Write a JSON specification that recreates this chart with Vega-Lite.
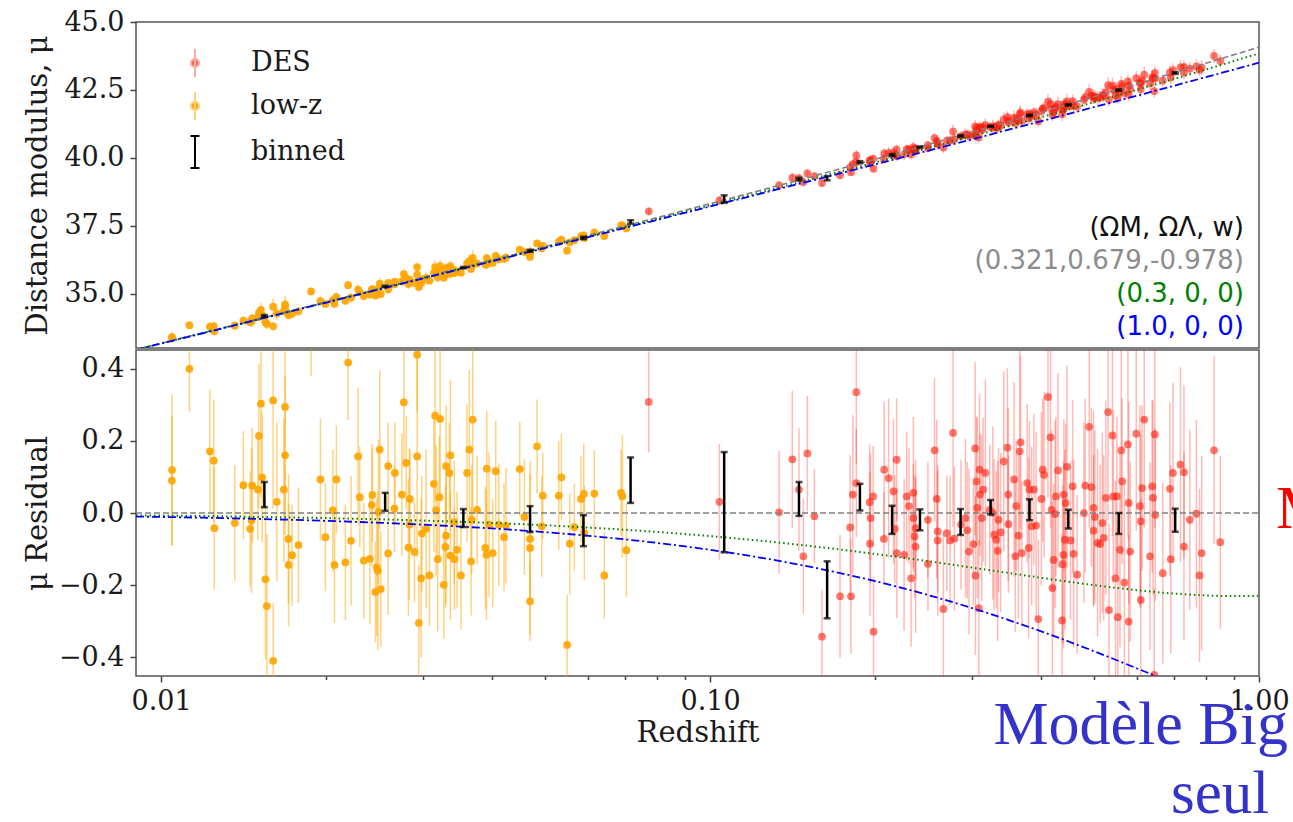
{
  "$schema": "https://vega.github.io/schema/vega-lite/v6.json",
  "background": "white",
  "padding": {"left": 22, "top": 7, "right": 0, "bottom": 0},
  "spacing": 0,
  "config": {
    "view": {"stroke": "#555555", "strokeWidth": 1.5},
    "font": "DejaVu Serif",
    "axis": {"domain": false, "grid": false, "labelFont": "DejaVu Serif", "labelFontSize": 27, "labelColor": "#1a1a1a", "tickColor": "#444444", "tickWidth": 1.5, "tickSize": 6, "labelPadding": 6, "titleFont": "DejaVu Serif", "titleFontSize": 29, "titleFontWeight": "normal", "titleColor": "#1a1a1a"}
  },
  "datasets": {
    "keys": [{"s": "DES"}, {"s": "low-z"}, {"s": "binned"}],
    "lowz": [
      {"z":0.01047,"r":0.119,"e":0.21,"m":33.40},{"z":0.01046,"r":0.090,"e":0.18,"m":33.36},{"z":0.01126,"r":0.400,"e":0.12,"m":33.84},
      {"z":0.01227,"r":0.171,"e":0.17,"m":33.79},{"z":0.01247,"r":0.145,"e":0.17,"m":33.80},{"z":0.01250,"r":-0.042,"e":0.17,"m":33.62},
      {"z":0.01362,"r":-0.028,"e":0.16,"m":33.82},{"z":0.01412,"r":0.077,"e":0.15,"m":34.01},{"z":0.01465,"r":0.076,"e":0.16,"m":34.09},
      {"z":0.01453,"r":-0.044,"e":0.16,"m":33.95},{"z":0.01461,"r":-0.021,"e":0.20,"m":33.98},{"z":0.01501,"r":0.065,"e":0.14,"m":34.13},
      {"z":0.01507,"r":0.214,"e":0.20,"m":34.29},{"z":0.01520,"r":0.303,"e":0.26,"m":34.40},{"z":0.01528,"r":0.099,"e":0.18,"m":34.20},
      {"z":0.01549,"r":-0.184,"e":0.22,"m":33.95},{"z":0.01558,"r":-0.258,"e":0.20,"m":33.89},{"z":0.01600,"r":-0.410,"e":0.16,"m":33.80},
      {"z":0.01600,"r":0.312,"e":0.30,"m":34.52},{"z":0.01625,"r":0.031,"e":0.22,"m":34.27},{"z":0.01673,"r":0.065,"e":0.20,"m":34.37},
      {"z":0.01682,"r":0.294,"e":0.32,"m":34.61},{"z":0.01682,"r":0.160,"e":0.22,"m":34.48},{"z":0.01706,"r":-0.072,"e":0.18,"m":34.27},
      {"z":0.01707,"r":-0.144,"e":0.17,"m":34.21},{"z":0.01732,"r":-0.117,"e":0.14,"m":34.26},{"z":0.01779,"r":-0.089,"e":0.16,"m":34.35},
      {"z":0.01951,"r":0.093,"e":0.17,"m":34.73},{"z":0.01992,"r":-0.067,"e":0.15,"m":34.62},{"z":0.02055,"r":0.007,"e":0.17,"m":34.76},
      {"z":0.02069,"r":-0.144,"e":0.16,"m":34.63},{"z":0.02086,"r":0.093,"e":0.15,"m":34.88},{"z":0.02166,"r":-0.137,"e":0.16,"m":34.74},
      {"z":0.02191,"r":0.417,"e":0.16,"m":35.31},{"z":0.02218,"r":-0.077,"e":0.18,"m":34.85},{"z":0.02285,"r":0.157,"e":0.19,"m":35.15},
      {"z":0.02301,"r":0.044,"e":0.14,"m":35.05},{"z":0.02340,"r":-0.132,"e":0.16,"m":34.91},{"z":0.02400,"r":-0.127,"e":0.18,"m":34.97},
      {"z":0.02420,"r":0.022,"e":0.17,"m":35.14},{"z":0.02426,"r":0.050,"e":0.13,"m":35.17},{"z":0.02471,"r":-0.151,"e":0.19,"m":35.01},
      {"z":0.02482,"r":-0.160,"e":0.22,"m":35.01},{"z":0.02457,"r":-0.219,"e":0.14,"m":34.93},{"z":0.02513,"r":-0.211,"e":0.16,"m":34.99},
      {"z":0.02502,"r":0.176,"e":0.22,"m":35.37},{"z":0.02488,"r":0.003,"e":0.20,"m":35.18},{"z":0.02592,"r":0.130,"e":0.12,"m":35.40},
      {"z":0.02592,"r":-0.112,"e":0.17,"m":35.16},{"z":0.02666,"r":0.111,"e":0.14,"m":35.44},{"z":0.02661,"r":0.012,"e":0.12,"m":35.34},
      {"z":0.02745,"r":0.051,"e":0.17,"m":35.45},{"z":0.02768,"r":0.307,"e":0.18,"m":35.72},{"z":0.02795,"r":0.139,"e":0.13,"m":35.57},
      {"z":0.02839,"r":0.039,"e":0.14,"m":35.51},{"z":0.02834,"r":-0.032,"e":0.21,"m":35.43},{"z":0.02822,"r":-0.096,"e":0.19,"m":35.36},
      {"z":0.02894,"r":-0.108,"e":0.14,"m":35.40},{"z":0.02927,"r":0.439,"e":0.16,"m":35.98},{"z":0.02927,"r":0.157,"e":0.28,"m":35.70},
      {"z":0.02948,"r":-0.305,"e":0.16,"m":35.25},{"z":0.02976,"r":-0.181,"e":0.22,"m":35.39},{"z":0.02985,"r":-0.057,"e":0.16,"m":35.52},
      {"z":0.03039,"r":-0.044,"e":0.22,"m":35.58},{"z":0.03082,"r":-0.173,"e":0.14,"m":35.48},{"z":0.01876,"r":0.520,"e":0.14,"m":35.08},
      {"z":0.03156,"r":0.270,"e":0.24,"m":35.98},{"z":0.03223,"r":0.261,"e":0.22,"m":36.01},{"z":0.03139,"r":0.081,"e":0.19,"m":35.77},
      {"z":0.03213,"r":0.044,"e":0.17,"m":35.79},{"z":0.03169,"r":0.007,"e":0.18,"m":35.72},{"z":0.03191,"r":-0.128,"e":0.20,"m":35.60},
      {"z":0.03273,"r":-0.199,"e":0.15,"m":35.59},{"z":0.03295,"r":-0.094,"e":0.17,"m":35.71},{"z":0.03305,"r":-0.063,"e":0.19,"m":35.74},
      {"z":0.03305,"r":0.130,"e":0.17,"m":35.94},{"z":0.03351,"r":0.111,"e":0.14,"m":35.95},{"z":0.03365,"r":0.160,"e":0.21,"m":36.01},
      {"z":0.03365,"r":-0.118,"e":0.18,"m":35.73},{"z":0.03421,"r":-0.128,"e":0.14,"m":35.76},{"z":0.03421,"r":-0.025,"e":0.17,"m":35.86},
      {"z":0.03460,"r":-0.102,"e":0.16,"m":35.81},{"z":0.03518,"r":-0.173,"e":0.15,"m":35.77},{"z":0.03608,"r":0.111,"e":0.19,"m":36.11},
      {"z":0.03643,"r":0.176,"e":0.22,"m":36.20},{"z":0.03695,"r":0.259,"e":0.28,"m":36.32},{"z":0.03680,"r":-0.019,"e":0.15,"m":36.03},
      {"z":0.03669,"r":-0.134,"e":0.15,"m":35.91},{"z":0.03763,"r":0.009,"e":0.15,"m":36.11},{"z":0.03896,"r":-0.097,"e":0.17,"m":36.08},
      {"z":0.03919,"r":0.123,"e":0.16,"m":36.31},{"z":0.03915,"r":-0.116,"e":0.18,"m":36.07},{"z":0.03957,"r":-0.032,"e":0.20,"m":36.18},
      {"z":0.04019,"r":-0.111,"e":0.15,"m":36.13},{"z":0.04070,"r":0.116,"e":0.14,"m":36.39},{"z":0.04121,"r":-0.032,"e":0.17,"m":36.27},
      {"z":0.04214,"r":-0.067,"e":0.15,"m":36.28},{"z":0.04249,"r":-0.035,"e":0.16,"m":36.33},{"z":0.04501,"r":0.122,"e":0.13,"m":36.62},
      {"z":0.04589,"r":-0.011,"e":0.16,"m":36.53},{"z":0.04700,"r":-0.072,"e":0.18,"m":36.52},{"z":0.04700,"r":-0.097,"e":0.24,"m":36.50},
      {"z":0.04700,"r":-0.245,"e":0.11,"m":36.35},{"z":0.04840,"r":0.185,"e":0.13,"m":36.85},{"z":0.04936,"r":-0.037,"e":0.14,"m":36.67},
      {"z":0.04957,"r":0.048,"e":0.12,"m":36.76},{"z":0.05302,"r":0.048,"e":0.15,"m":36.91},{"z":0.05360,"r":0.099,"e":0.12,"m":36.99},
      {"z":0.05490,"r":-0.366,"e":0.14,"m":36.58},{"z":0.05552,"r":-0.085,"e":0.14,"m":36.88},{"z":0.05660,"r":-0.039,"e":0.12,"m":36.97},
      {"z":0.05821,"r":0.039,"e":0.12,"m":37.12},{"z":0.05887,"r":0.053,"e":0.14,"m":37.15},{"z":0.05902,"r":-0.056,"e":0.13,"m":37.05},
      {"z":0.06154,"r":0.054,"e":0.12,"m":37.26},{"z":0.06417,"r":-0.173,"e":0.12,"m":37.12},{"z":0.06885,"r":0.056,"e":0.12,"m":37.51},
      {"z":0.06922,"r":0.046,"e":0.17,"m":37.51},{"z":0.07039,"r":-0.103,"e":0.13,"m":37.40}
    ],
    "des": [
      {"z":0.07733,"r":0.308,"e":0.14,"m":38.03},{"z":0.1040,"r":0.031,"e":0.16,"m":38.43},{"z":0.1336,"r":0.002,"e":0.17,"m":38.99},
      {"z":0.1412,"r":0.149,"e":0.19,"m":39.27},{"z":0.1479,"r":-0.120,"e":0.16,"m":39.11},{"z":0.1504,"r":0.165,"e":0.16,"m":39.43},
      {"z":0.1549,"r":-0.009,"e":0.13,"m":39.33},{"z":0.1452,"r":0.065,"e":0.17,"m":39.25},{"z":0.1599,"r":-0.343,"e":0.13,"m":39.07},
      {"z":0.1725,"r":-0.231,"e":0.17,"m":39.36},{"z":0.1806,"r":-0.231,"e":0.16,"m":39.47},{"z":0.1800,"r":-0.040,"e":0.20,"m":39.66},
      {"z":0.1820,"r":0.051,"e":0.22,"m":39.77},{"z":0.1847,"r":0.335,"e":0.20,"m":40.09},{"z":0.1847,"r":0.083,"e":0.15,"m":39.84},
      {"z":0.1953,"r":0.030,"e":0.16,"m":39.92},{"z":0.1960,"r":-0.014,"e":0.18,"m":39.89},{"z":0.1956,"r":-0.085,"e":0.20,"m":39.81},
      {"z":0.1985,"r":-0.329,"e":0.15,"m":39.60},{"z":0.1982,"r":0.046,"e":0.14,"m":39.97},{"z":0.2076,"r":0.120,"e":0.19,"m":40.16},
      {"z":0.2073,"r":-0.072,"e":0.13,"m":39.96},{"z":0.2115,"r":0.097,"e":0.22,"m":40.18},{"z":0.2158,"r":0.060,"e":0.20,"m":40.19},
      {"z":0.2187,"r":0.148,"e":0.17,"m":40.31},{"z":0.2189,"r":-0.111,"e":0.18,"m":40.06},{"z":0.2170,"r":-0.044,"e":0.15,"m":40.10},
      {"z":0.2257,"r":-0.116,"e":0.21,"m":40.13},{"z":0.2282,"r":0.046,"e":0.18,"m":40.32},{"z":0.2303,"r":0.019,"e":0.16,"m":40.31},
      {"z":0.2324,"r":-0.181,"e":0.19,"m":40.13},{"z":0.2346,"r":0.056,"e":0.21,"m":40.39},{"z":0.2346,"r":-0.014,"e":0.15,"m":40.32},
      {"z":0.2359,"r":-0.065,"e":0.17,"m":40.29},{"z":0.2368,"r":-0.093,"e":0.24,"m":40.27},{"z":0.2370,"r":-0.042,"e":0.14,"m":40.32},
      {"z":0.2494,"r":-0.019,"e":0.16,"m":40.47},{"z":0.2494,"r":-0.141,"e":0.13,"m":40.35},{"z":0.2564,"r":0.174,"e":0.20,"m":40.73},
      {"z":0.2588,"r":0.039,"e":0.22,"m":40.62},{"z":0.2598,"r":-0.051,"e":0.17,"m":40.54},{"z":0.2598,"r":-0.076,"e":0.21,"m":40.51},
      {"z":0.2661,"r":-0.266,"e":0.21,"m":40.38},{"z":0.2700,"r":-0.056,"e":0.16,"m":40.63},{"z":0.2737,"r":-0.076,"e":0.18,"m":40.64},
      {"z":0.2771,"r":0.222,"e":0.26,"m":40.97},{"z":0.2787,"r":-0.071,"e":0.20,"m":40.69},{"z":0.2865,"r":-0.032,"e":0.18,"m":40.80},
      {"z":0.2919,"r":-0.014,"e":0.22,"m":40.86},{"z":0.2941,"r":-0.048,"e":0.19,"m":40.85},{"z":0.2963,"r":-0.107,"e":0.23,"m":40.81},
      {"z":0.3017,"r":-0.086,"e":0.17,"m":40.87},{"z":0.3040,"r":0.179,"e":0.24,"m":41.16},{"z":0.3044,"r":-0.174,"e":0.22,"m":40.81},
      {"z":0.3057,"r":0.088,"e":0.18,"m":41.08},{"z":0.3068,"r":0.014,"e":0.25,"m":41.02},{"z":0.3087,"r":-0.264,"e":0.19,"m":40.75},
      {"z":0.3097,"r":0.120,"e":0.21,"m":41.14},{"z":0.3103,"r":0.051,"e":0.17,"m":41.08},{"z":0.3126,"r":-0.014,"e":0.23,"m":41.03},
      {"z":0.3144,"r":0.065,"e":0.20,"m":41.13},{"z":0.3173,"r":0.111,"e":0.26,"m":41.20},{"z":0.3232,"r":0.009,"e":0.18,"m":41.14},
      {"z":0.3274,"r":0.000,"e":0.24,"m":41.16},{"z":0.3292,"r":-0.060,"e":0.21,"m":41.12},{"z":0.3322,"r":-0.074,"e":0.19,"m":41.13},
      {"z":0.3341,"r":-0.105,"e":0.25,"m":41.11},{"z":0.3353,"r":-0.019,"e":0.20,"m":41.21},{"z":0.3384,"r":-0.054,"e":0.22,"m":41.19},
      {"z":0.3428,"r":0.143,"e":0.25,"m":41.42},{"z":0.3481,"r":0.181,"e":0.22,"m":41.50},{"z":0.3492,"r":0.051,"e":0.24,"m":41.38},
      {"z":0.3496,"r":-0.031,"e":0.19,"m":41.30},{"z":0.3579,"r":0.093,"e":0.27,"m":41.48},{"z":0.3598,"r":-0.120,"e":0.21,"m":41.28},
      {"z":0.3612,"r":0.019,"e":0.18,"m":41.43},{"z":0.3645,"r":-0.063,"e":0.23,"m":41.37},{"z":0.3665,"r":0.171,"e":0.28,"m":41.62},
      {"z":0.3679,"r":0.196,"e":0.24,"m":41.66},{"z":0.3699,"r":-0.111,"e":0.20,"m":41.36},{"z":0.3782,"r":0.083,"e":0.22,"m":41.61},
      {"z":0.3805,"r":-0.097,"e":0.25,"m":41.45},{"z":0.3818,"r":0.065,"e":0.19,"m":41.62},{"z":0.3853,"r":-0.037,"e":0.22,"m":41.54},
      {"z":0.3890,"r":0.065,"e":0.21,"m":41.67},{"z":0.3926,"r":-0.035,"e":0.26,"m":41.59},{"z":0.3963,"r":-0.294,"e":0.22,"m":41.35},
      {"z":0.4014,"r":0.039,"e":0.24,"m":41.72},{"z":0.4036,"r":0.120,"e":0.20,"m":41.82},{"z":0.4060,"r":0.106,"e":0.23,"m":41.82},
      {"z":0.4127,"r":0.322,"e":0.28,"m":42.07},{"z":0.4172,"r":0.210,"e":0.25,"m":41.99},{"z":0.4188,"r":0.009,"e":0.22,"m":41.80},
      {"z":0.4204,"r":-0.208,"e":0.24,"m":41.59},{"z":0.4226,"r":-0.130,"e":0.21,"m":41.68},{"z":0.4251,"r":-0.003,"e":0.26,"m":41.82},
      {"z":0.4267,"r":0.046,"e":0.22,"m":41.88},{"z":0.4305,"r":0.118,"e":0.27,"m":41.98},{"z":0.4378,"r":-0.298,"e":0.24,"m":41.60},
      {"z":0.4387,"r":-0.142,"e":0.22,"m":41.77},{"z":0.4404,"r":-0.116,"e":0.26,"m":41.80},{"z":0.4411,"r":0.051,"e":0.21,"m":41.97},
      {"z":0.4428,"r":-0.074,"e":0.25,"m":41.86},{"z":0.4445,"r":0.028,"e":0.22,"m":41.97},{"z":0.4469,"r":0.128,"e":0.28,"m":42.08},
      {"z":0.4535,"r":-0.076,"e":0.22,"m":41.92},{"z":0.4577,"r":0.074,"e":0.24,"m":42.09},{"z":0.4594,"r":-0.113,"e":0.26,"m":41.91},
      {"z":0.4663,"r":-0.171,"e":0.22,"m":41.89},{"z":0.4797,"r":0.000,"e":0.25,"m":42.14},{"z":0.4825,"r":0.076,"e":0.24,"m":42.23},
      {"z":0.4905,"r":0.239,"e":0.28,"m":42.43},{"z":0.4950,"r":0.072,"e":0.22,"m":42.29},{"z":0.4996,"r":0.014,"e":0.27,"m":42.26},
      {"z":0.4996,"r":-0.049,"e":0.21,"m":42.19},{"z":0.5023,"r":-0.011,"e":0.24,"m":42.25},{"z":0.5080,"r":-0.083,"e":0.26,"m":42.20},
      {"z":0.5136,"r":-0.086,"e":0.22,"m":42.23},{"z":0.5183,"r":-0.028,"e":0.25,"m":42.31},{"z":0.5213,"r":-0.069,"e":0.23,"m":42.29},
      {"z":0.5261,"r":0.042,"e":0.27,"m":42.42},{"z":0.5310,"r":0.280,"e":0.30,"m":42.68},{"z":0.5330,"r":-0.269,"e":0.24,"m":42.14},
      {"z":0.5409,"r":0.215,"e":0.28,"m":42.67},{"z":0.5429,"r":0.046,"e":0.24,"m":42.51},{"z":0.5479,"r":-0.181,"e":0.27,"m":42.30},
      {"z":0.5509,"r":0.046,"e":0.22,"m":42.54},{"z":0.5530,"r":-0.289,"e":0.25,"m":42.22},{"z":0.5581,"r":-0.102,"e":0.27,"m":42.43},
      {"z":0.5612,"r":0.174,"e":0.29,"m":42.72},{"z":0.5633,"r":0.088,"e":0.23,"m":42.64},{"z":0.5685,"r":-0.193,"e":0.27,"m":42.39},
      {"z":0.5771,"r":0.190,"e":0.26,"m":42.81},{"z":0.5790,"r":-0.301,"e":0.24,"m":42.33},{"z":0.5790,"r":0.028,"e":0.28,"m":42.66},
      {"z":0.5825,"r":-0.107,"e":0.25,"m":42.54},{"z":0.5976,"r":0.220,"e":0.27,"m":42.93},{"z":0.6067,"r":0.019,"e":0.28,"m":42.77},
      {"z":0.6090,"r":-0.023,"e":0.24,"m":42.74},{"z":0.6090,"r":-0.241,"e":0.28,"m":42.52},{"z":0.6123,"r":0.069,"e":0.23,"m":42.84},
      {"z":0.6180,"r":0.259,"e":0.30,"m":43.06},{"z":0.6330,"r":-0.120,"e":0.26,"m":42.74},{"z":0.6388,"r":0.074,"e":0.24,"m":42.96},
      {"z":0.6412,"r":0.042,"e":0.27,"m":42.94},{"z":0.6461,"r":0.218,"e":0.26,"m":43.13},{"z":0.6472,"r":-0.005,"e":0.24,"m":42.92},
      {"z":0.6679,"r":-0.167,"e":0.25,"m":42.84},{"z":0.6881,"r":0.067,"e":0.24,"m":43.15},{"z":0.6907,"r":-0.128,"e":0.26,"m":42.96},
      {"z":0.6971,"r":0.111,"e":0.25,"m":43.23},{"z":0.7194,"r":0.134,"e":0.27,"m":43.33},{"z":0.7300,"r":0.113,"e":0.24,"m":43.35},
      {"z":0.7300,"r":-0.093,"e":0.26,"m":43.14},{"z":0.7480,"r":-0.019,"e":0.25,"m":43.28},{"z":0.7690,"r":-0.002,"e":0.26,"m":43.37},
      {"z":0.7791,"r":-0.173,"e":0.24,"m":43.24},{"z":0.7863,"r":-0.111,"e":0.27,"m":43.32},{"z":0.8283,"r":0.174,"e":0.26,"m":43.75},
      {"z":0.8501,"r":-0.081,"e":0.24,"m":43.56},{"z":0.6444,"r":-0.449,"e":0.24,"m":42.46}
    ],
    "binned": [
      {"z":0.01542,"r":0.051,"e":0.035,"m":34.18},{"z":0.02559,"r":0.031,"e":0.025,"m":35.27},{"z":0.03553,"r":-0.014,"e":0.025,"m":35.96},
      {"z":0.04700,"r":-0.017,"e":0.036,"m":36.58},{"z":0.05879,"r":-0.049,"e":0.043,"m":37.05},{"z":0.07165,"r":0.091,"e":0.063,"m":37.64},
      {"z":0.1061,"r":0.030,"e":0.139,"m":38.48},{"z":0.1452,"r":0.039,"e":0.047,"m":39.22},{"z":0.1634,"r":-0.213,"e":0.079,"m":39.25},
      {"z":0.1875,"r":0.044,"e":0.037,"m":39.84},{"z":0.2146,"r":-0.019,"e":0.039,"m":40.10},{"z":0.2412,"r":-0.019,"e":0.029,"m":40.39},
      {"z":0.2860,"r":-0.025,"e":0.036,"m":40.80},{"z":0.3244,"r":0.016,"e":0.020,"m":41.16},{"z":0.3818,"r":0.009,"e":0.029,"m":41.56},
      {"z":0.4494,"r":-0.017,"e":0.026,"m":41.95},{"z":0.5552,"r":-0.029,"e":0.029,"m":42.49},{"z":0.7036,"r":-0.020,"e":0.032,"m":43.12}
    ],
    "lcdm": [
      {"z":0.009,"m":32.945,"r":0},{"z":0.012,"m":33.574,"r":0},{"z":0.015,"m":34.063,"r":0},{"z":0.02,"m":34.696,"r":0},
      {"z":0.03,"m":35.593,"r":0},{"z":0.05,"m":36.733,"r":0},{"z":0.07,"m":37.494,"r":0},{"z":0.1,"m":38.312,"r":0},
      {"z":0.15,"m":39.261,"r":0},{"z":0.2,"m":39.950,"r":0},{"z":0.25,"m":40.494,"r":0},{"z":0.3,"m":40.946,"r":0},
      {"z":0.35,"m":41.333,"r":0},{"z":0.4,"m":41.672,"r":0},{"z":0.45,"m":41.973,"r":0},{"z":0.5,"m":42.246,"r":0},
      {"z":0.6,"m":42.721,"r":0},{"z":0.7,"m":43.126,"r":0},{"z":0.8,"m":43.480,"r":0},{"z":0.9,"m":43.793,"r":0},{"z":1.0,"m":44.074,"r":0}
    ],
    "open": [
      {"z":0.009,"m":32.938,"r":-0.0065},{"z":0.012,"m":33.565,"r":-0.0086},{"z":0.015,"m":34.052,"r":-0.0107},{"z":0.02,"m":34.682,"r":-0.0142},
      {"z":0.03,"m":35.572,"r":-0.0210},{"z":0.05,"m":36.699,"r":-0.0340},{"z":0.07,"m":37.448,"r":-0.0465},{"z":0.1,"m":38.248,"r":-0.0641},
      {"z":0.15,"m":39.171,"r":-0.0904},{"z":0.2,"m":39.836,"r":-0.1137},{"z":0.25,"m":40.360,"r":-0.1337},{"z":0.3,"m":40.795,"r":-0.1513},
      {"z":0.35,"m":41.167,"r":-0.1664},{"z":0.4,"m":41.493,"r":-0.1795},{"z":0.45,"m":41.783,"r":-0.1905},{"z":0.5,"m":42.046,"r":-0.1999},
      {"z":0.6,"m":42.507,"r":-0.2142},{"z":0.7,"m":42.903,"r":-0.2234},{"z":0.8,"m":43.251,"r":-0.2286},{"z":0.9,"m":43.563,"r":-0.2305},{"z":1.0,"m":43.844,"r":-0.2296}
    ],
    "eds": [
      {"z":0.009,"m":32.935,"r":-0.0099},{"z":0.012,"m":33.561,"r":-0.0131},{"z":0.015,"m":34.047,"r":-0.0164},{"z":0.02,"m":34.674,"r":-0.0218},
      {"z":0.03,"m":35.561,"r":-0.0323},{"z":0.05,"m":36.680,"r":-0.0531},{"z":0.07,"m":37.421,"r":-0.0731},{"z":0.1,"m":38.210,"r":-0.1021},
      {"z":0.15,"m":39.114,"r":-0.1473},{"z":0.2,"m":39.761,"r":-0.1891},{"z":0.25,"m":40.266,"r":-0.2278},{"z":0.3,"m":40.682,"r":-0.2636},
      {"z":0.35,"m":41.036,"r":-0.2969},{"z":0.4,"m":41.344,"r":-0.3277},{"z":0.45,"m":41.617,"r":-0.3564},{"z":0.5,"m":41.863,"r":-0.3831},
      {"z":0.6,"m":42.290,"r":-0.4312},{"z":0.7,"m":42.653,"r":-0.4732},{"z":0.8,"m":42.970,"r":-0.5100},{"z":0.9,"m":43.251,"r":-0.5425},{"z":1.0,"m":43.503,"r":-0.5712}
    ]
  },
  "resolve": {"scale": {"x": "independent", "y": "independent", "fill": "independent", "stroke": "independent", "shape": "independent"},
              "legend": {"fill": "independent", "stroke": "independent", "shape": "independent"}},
  "vconcat": [
    {
      "width": 1123,
      "height": 326,
      "layer": [
        {
          "encoding": {
            "x": {"field": "z", "type": "quantitative", "scale": {"type": "log", "domain": [0.009, 1], "nice": false}, "axis": null},
            "y": {"field": "m", "type": "quantitative", "scale": {"domain": [33, 45], "nice": false, "zero": false},
                  "axis": {"title": "Distance modulus, μ", "values": [35, 37.5, 40, 42.5, 45], "format": ".1f", "minExtent": 80, "maxExtent": 80, "titlePadding": 4}}
          },
          "layer": [
            {"data": {"name": "lowz"}, "mark": {"type": "errorbar", "color": "#ffa500", "opacity": 0.5, "thickness": 1.5, "clip": true}, "encoding": {"yError": {"field": "e"}}},
            {"data": {"name": "des"}, "mark": {"type": "errorbar", "color": "#ff1a0a", "opacity": 0.3, "thickness": 1.5, "clip": true}, "encoding": {"yError": {"field": "e"}}},
            {"data": {"name": "lowz"}, "mark": {"type": "point", "filled": true, "size": 60, "opacity": 0.92, "color": "#ffa500", "clip": true}},
            {"data": {"name": "des"}, "mark": {"type": "point", "filled": true, "size": 60, "opacity": 0.6, "color": "#ff1a0a", "clip": true}},
            {"data": {"name": "lcdm"}, "mark": {"type": "line", "color": "#808080", "strokeWidth": 1.6, "strokeDash": [6, 3], "interpolate": "monotone", "clip": true}},
            {"data": {"name": "open"}, "mark": {"type": "line", "color": "#008000", "strokeWidth": 2, "strokeDash": [1.5, 3], "interpolate": "monotone", "clip": true}},
            {"data": {"name": "eds"}, "mark": {"type": "line", "color": "#0000ff", "strokeWidth": 1.8, "strokeDash": [8, 3, 2, 3], "interpolate": "monotone", "clip": true}},
            {"data": {"name": "binned"}, "mark": {"type": "errorbar", "color": "#000000", "thickness": 2.5, "size": 7, "ticks": true, "clip": true}, "encoding": {"yError": {"field": "e"}}},
            {"data": {"name": "keys"}, "mark": {"type": "point", "filled": true, "clip": true},
             "encoding": {
               "fill": {"field": "s", "type": "nominal",
                 "scale": {"domain": ["DES", "low-z", "binned"], "range": ["#f36b60", "#ffa500", "transparent"]},
                 "legend": {"orient": "none", "legendX": 44, "legendY": 26, "padding": 0, "title": null, "symbolSize": 784, "symbolStrokeWidth": 2, "symbolOpacity": 1,
                            "labelFont": "DejaVu Serif", "labelFontSize": 27, "labelColor": "#1a1a1a", "labelOffset": 41, "rowPadding": 7}},
               "stroke": {"field": "s", "type": "nominal",
                 "scale": {"domain": ["DES", "low-z", "binned"], "range": ["#f9aca4", "#ffcf7a", "#000000"]},
                 "legend": {"orient": "none", "legendX": 44, "legendY": 26, "padding": 0, "title": null, "symbolSize": 784, "symbolStrokeWidth": 2, "symbolOpacity": 1,
                            "labelFont": "DejaVu Serif", "labelFontSize": 27, "labelColor": "#1a1a1a", "labelOffset": 41, "rowPadding": 7}},
               "shape": {"field": "s", "type": "nominal",
                 "scale": {"domain": ["DES", "low-z", "binned"], "range": ["M0,-1V1M-0.29,0a0.29,0.29 0 1,0 0.58,0a0.29,0.29 0 1,0 -0.58,0", "M0,-1V1M-0.29,0a0.29,0.29 0 1,0 0.58,0a0.29,0.29 0 1,0 -0.58,0", "M0,-1.15V1.15M-0.32,-1.15H0.32M-0.32,1.15H0.32"]},
                 "legend": {"orient": "none", "legendX": 44, "legendY": 26, "padding": 0, "title": null, "symbolSize": 784, "symbolStrokeWidth": 2, "symbolOpacity": 1,
                            "labelFont": "DejaVu Serif", "labelFontSize": 27, "labelColor": "#1a1a1a", "labelOffset": 41, "rowPadding": 7}}
             }}
          ]
        },
        {"data": {"values": [{}]}, "mark": {"type": "text", "text": "(ΩM, ΩΛ, w)", "align": "right", "baseline": "alphabetic", "font": "DejaVu Sans", "fontSize": 26, "color": "#111111"},
         "encoding": {"x": {"datum": 0.9391, "type": "quantitative", "scale": {"type": "log", "domain": [0.009, 1], "nice": false}}, "y": {"datum": 37.13, "type": "quantitative", "scale": {"domain": [33, 45], "nice": false, "zero": false}}}},
        {"data": {"values": [{}]}, "mark": {"type": "text", "text": "(0.321,0.679,-0.978)", "align": "right", "baseline": "alphabetic", "font": "DejaVu Sans", "fontSize": 26, "color": "#8c8c8c"},
         "encoding": {"x": {"datum": 0.9391, "type": "quantitative", "scale": {"type": "log", "domain": [0.009, 1], "nice": false}}, "y": {"datum": 35.92, "type": "quantitative", "scale": {"domain": [33, 45], "nice": false, "zero": false}}}},
        {"data": {"values": [{}]}, "mark": {"type": "text", "text": "(0.3, 0, 0)", "align": "right", "baseline": "alphabetic", "font": "DejaVu Sans", "fontSize": 26, "color": "#008000"},
         "encoding": {"x": {"datum": 0.9391, "type": "quantitative", "scale": {"type": "log", "domain": [0.009, 1], "nice": false}}, "y": {"datum": 34.71, "type": "quantitative", "scale": {"domain": [33, 45], "nice": false, "zero": false}}}},
        {"data": {"values": [{}]}, "mark": {"type": "text", "text": "(1.0, 0, 0)", "align": "right", "baseline": "alphabetic", "font": "DejaVu Sans", "fontSize": 26, "color": "#0000ff"},
         "encoding": {"x": {"datum": 0.9391, "type": "quantitative", "scale": {"type": "log", "domain": [0.009, 1], "nice": false}}, "y": {"datum": 33.49, "type": "quantitative", "scale": {"domain": [33, 45], "nice": false, "zero": false}}}}
      ]
    },
    {
      "width": 1123,
      "height": 326,
      "layer": [
        {
          "encoding": {
            "x": {"field": "z", "type": "quantitative", "scale": {"type": "log", "domain": [0.009, 1], "nice": false},
                  "axis": {"title": "Redshift", "values": [0.01,0.02,0.03,0.04,0.05,0.06,0.07,0.08,0.09,0.1,0.2,0.3,0.4,0.5,0.6,0.7,0.8,0.9,1],
                           "labelExpr": "(datum.value == 0.01 || datum.value == 0.1 || datum.value == 1) ? format(datum.value, '.2f') : ''",
                           "tickSize": {"condition": {"test": "datum.value == 0.01 || datum.value == 0.1 || datum.value == 1", "value": 6}, "value": 3.5},
                           "labelOverlap": false, "labelFlush": false, "titlePadding": 4}},
            "y": {"field": "r", "type": "quantitative", "scale": {"domain": [-0.452, 0.452], "nice": false},
                  "axis": {"title": "μ Residual", "values": [-0.4, -0.2, 0, 0.2, 0.4], "format": ".1f", "minExtent": 80, "maxExtent": 80, "titlePadding": 4}}
          },
          "layer": [
            {"data": {"name": "lowz"}, "mark": {"type": "errorbar", "color": "#ffa500", "opacity": 0.5, "thickness": 1.5, "clip": true}, "encoding": {"yError": {"field": "e"}}},
            {"data": {"name": "des"}, "mark": {"type": "errorbar", "color": "#ff1a0a", "opacity": 0.3, "thickness": 1.5, "clip": true}, "encoding": {"yError": {"field": "e"}}},
            {"data": {"name": "lowz"}, "mark": {"type": "point", "filled": true, "size": 60, "opacity": 0.92, "color": "#ffa500", "clip": true}},
            {"data": {"name": "des"}, "mark": {"type": "point", "filled": true, "size": 60, "opacity": 0.6, "color": "#ff1a0a", "clip": true}},
            {"data": {"name": "lcdm"}, "mark": {"type": "line", "color": "#808080", "strokeWidth": 1.6, "strokeDash": [6, 3], "clip": true}},
            {"data": {"name": "open"}, "mark": {"type": "line", "color": "#008000", "strokeWidth": 2, "strokeDash": [1.5, 3], "interpolate": "monotone", "clip": true}},
            {"data": {"name": "eds"}, "mark": {"type": "line", "color": "#0000ff", "strokeWidth": 1.8, "strokeDash": [8, 3, 2, 3], "interpolate": "monotone", "clip": true}},
            {"data": {"name": "binned"}, "mark": {"type": "errorbar", "color": "#000000", "thickness": 2.5, "size": 7, "ticks": true, "clip": true}, "encoding": {"yError": {"field": "e"}}}
          ]
        },
        {"data": {"values": [{}]}, "mark": {"type": "text", "text": "Modèle Big", "align": "left", "baseline": "alphabetic", "font": "Liberation Serif", "fontSize": 62, "color": "#3333cc"},
         "encoding": {"x": {"datum": 0.3283, "type": "quantitative", "scale": {"type": "log", "domain": [0.009, 1], "nice": false}}, "y": {"datum": -0.6417, "type": "quantitative", "scale": {"domain": [-0.452, 0.452], "nice": false}}}},
        {"data": {"values": [{}]}, "mark": {"type": "text", "text": "seul", "align": "left", "baseline": "alphabetic", "font": "Liberation Serif", "fontSize": 61, "color": "#3333cc"},
         "encoding": {"x": {"datum": 0.6913, "type": "quantitative", "scale": {"type": "log", "domain": [0.009, 1], "nice": false}}, "y": {"datum": -0.832, "type": "quantitative", "scale": {"domain": [-0.452, 0.452], "nice": false}}}},
        {"data": {"values": [{}]}, "mark": {"type": "text", "text": "M", "align": "left", "baseline": "alphabetic", "font": "Liberation Serif", "fontSize": 62, "color": "#ff0000"},
         "encoding": {"x": {"datum": 1.0739, "type": "quantitative", "scale": {"type": "log", "domain": [0.009, 1], "nice": false}}, "y": {"datum": -0.0417, "type": "quantitative", "scale": {"domain": [-0.452, 0.452], "nice": false}}}}
      ]
    }
  ]
}
